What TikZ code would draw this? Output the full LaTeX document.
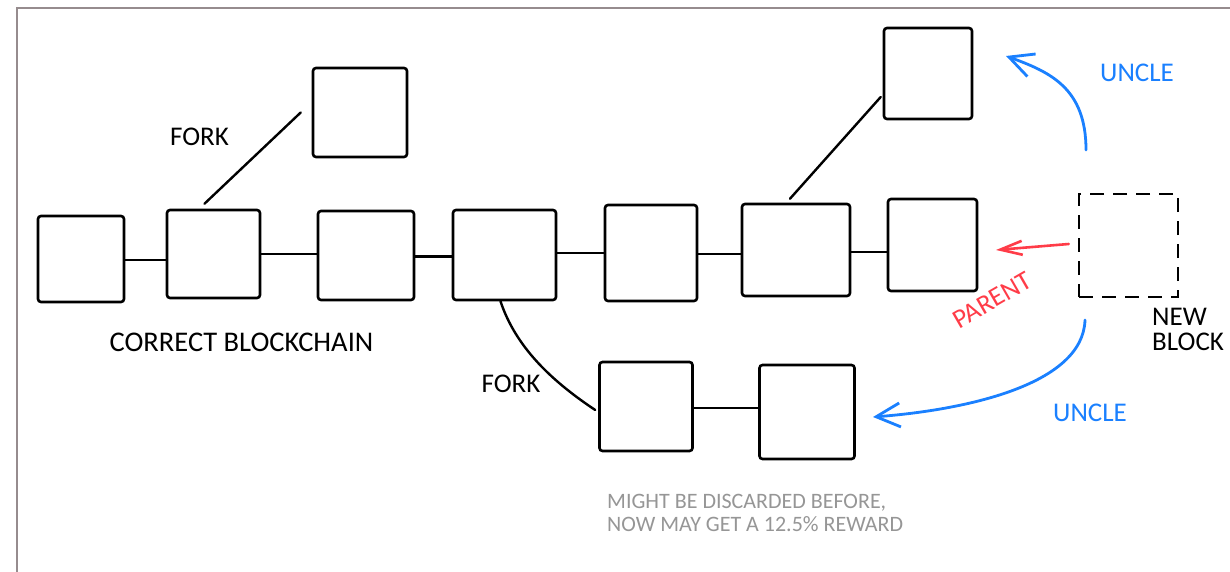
\documentclass[tikz,border=0pt]{standalone}
\usepackage{fontspec}
\setmainfont{Carlito}
\usetikzlibrary{arrows.meta,calc}
\definecolor{framegray}{RGB}{150,140,142}
\definecolor{uncleblue}{RGB}{26,128,255}
\definecolor{parentred}{RGB}{255,60,72}
\definecolor{notegray}{RGB}{150,150,150}
\tikzset{
  blk/.style={draw=black, line width=2.6pt, rounded corners=3pt, inner sep=0pt},
  newblk/.style={draw=black, line width=2.6pt, inner sep=0pt, dash pattern=on 14pt off 9pt},
  link/.style={draw=black, line width=2.4pt, line cap=round},
  lbl/.style={font=\fontsize{27}{25}\selectfont, inner sep=0pt},
  notelbl/.style={font=\fontsize{22}{23}\selectfont, inner sep=0pt, text=notegray, align=left},
  unclearrow/.style={draw=uncleblue, line width=2.8pt, line cap=round,
    -{Straight Barb[length=24pt, width=24pt, line width=2.8pt]}},
  parentarrow/.style={draw=parentred, line width=2.6pt, line cap=round,
    -{Straight Barb[length=22pt, width=14pt, line width=2.6pt]}},
}
\begin{document}
\begin{tikzpicture}[x=1pt,y=-1pt]
\useasboundingbox (0,0) rectangle (1230,572);
\fill[white] (0,0) rectangle (1230,572);
\draw[framegray, line width=2pt] (16.5,572) -- (16.5,8) -- (1230,8);

% main chain
\node[blk, minimum width=86pt, minimum height=86pt] (b1) at (81,259) {};
\node[blk, minimum width=93pt, minimum height=88pt] (b2) at (213.5,254) {};
\node[blk, minimum width=96pt, minimum height=89pt] (b3) at (366,255.5) {};
\node[blk, minimum width=103pt, minimum height=90pt] (b4) at (504.5,255) {};
\node[blk, minimum width=92pt, minimum height=96pt] (b5) at (651,253) {};
\node[blk, minimum width=108pt, minimum height=92pt] (b6) at (796,250) {};
\node[blk, minimum width=89pt, minimum height=92pt] (b7) at (932.5,245) {};
% forks
\node[blk, minimum width=94pt, minimum height=89pt] (f1) at (360,112.5) {};
\node[blk, minimum width=88pt, minimum height=91pt] (u) at (928,73.5) {};
\node[blk, minimum width=93pt, minimum height=89pt] (b8) at (646,406.5) {};
\node[blk, minimum width=95pt, minimum height=94pt] (b9) at (807,412) {};
% new block
\node[newblk, minimum width=99pt, minimum height=103pt] (nb) at (1128.5,245.5) {};

% chain links (horizontal)
\draw[link] ([yshift=-1pt]b1.east) -- ([yshift=-1pt]b1.east -| b2.west);
\draw[link] (b2.east) -- (b2.east -| b3.west);
\draw[link] ([yshift=-1pt]b3.east) -- ([yshift=-1pt]b3.east -| b4.west);
\draw[link] ([yshift=2pt]b4.east) -- ([yshift=2pt]b4.east -| b5.west);
\draw[link] ([yshift=-1pt]b5.east) -- ([yshift=-1pt]b5.east -| b6.west);
\draw[link] ([yshift=-2pt]b6.east) -- ([yshift=-2pt]b6.east -| b7.west);
\draw[link] ([yshift=-1.5pt]b8.east) -- ([yshift=-1.5pt]b8.east -| b9.west);
% fork links
\draw[link] ([xshift=-9pt,yshift=5pt]b2.north) -- ([xshift=-11pt]f1.west);
\draw[link] ([xshift=-6pt,yshift=4pt]b6.north) -- ([xshift=-2pt,yshift=-23.5pt]u.west);
\draw[link] ([xshift=-4pt]b4.south) .. controls +(15,45) and +(-45,-30) .. ([xshift=-3pt,yshift=-3.5pt]b8.west);

% arrows from new block
\coordinate (upstart) at (1086,150);
\coordinate (uptip) at (1006,56);
\coordinate (lowstart) at (1085,320);
\coordinate (lowtip) at (873,417);
\coordinate (partip) at (996,250);
\draw[unclearrow] (upstart) .. controls (1086,88) and (1050,72) .. (uptip);
\draw[unclearrow] (lowstart) .. controls (1083,385) and (965,410) .. (lowtip);
\draw[parentarrow] ([xshift=-9pt,yshift=1.5pt]nb.west) -- (partip);

% labels
\node[lbl, anchor=base] (fork1) at (199.5,146) {FORK};
\node[lbl, anchor=base, font=\fontsize{28.5}{25}\selectfont] (correct) at (241.5,351) {CORRECT BLOCKCHAIN};
\node[lbl, anchor=base] (fork2) at (511,392) {FORK};
\node[lbl, anchor=base, text=uncleblue] (uncle1) at (1137,82) {UNCLE};
\node[lbl, anchor=base, text=uncleblue] (uncle2) at (1090,421) {UNCLE};
\node[lbl, text=parentred, rotate=30] (parent) at (992,300) {PARENT};
\node[lbl, anchor=north west, align=left] (newlbl) at (1152,308) {NEW\\BLOCK};
\node[notelbl, anchor=north west] (note) at (607,494) {MIGHT BE DISCARDED BEFORE,\\NOW MAY GET A 12.5\% REWARD};
\end{tikzpicture}
\end{document}
